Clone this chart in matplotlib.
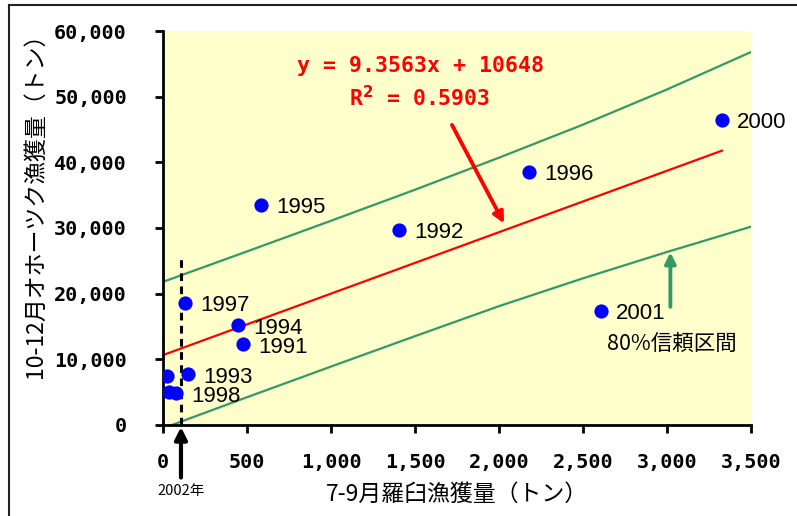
import numpy as np
from matplotlib import pyplot as plt
from matplotlib.ticker import FuncFormatter

plt.rcParams['font.family'] = ['Noto Sans CJK JP', 'DejaVu Sans']

# dati
anni = ["1991", "1992", "1993", "1994", "1995", "1996", "1997", "1998", "", "2000", "2001", ""]
rausu = [478, 1405, 147, 446, 583, 2179, 131, 77, 22, 3327, 2607, 38]          # 7-9月 (トン)
okhotsk = [12290, 29700, 7720, 15180, 33500, 38530, 18580, 4830, 7460, 46450, 17360, 5070]  # 10-12月 (トン)

# retta di regressione (dal testo)
pendenza = 9.3563
intercetta = 10648
r2 = 0.5903

# intervallo di confidenza 80%
banda_x = [0, 500, 1000, 1500, 2000, 2500, 3000, 3500]
banda_sup = [21800, 26430, 31100, 35830, 40710, 45740, 51100, 56800]
banda_inf = [-500, 4230, 8900, 13530, 18100, 22340, 26350, 30200]

x_2002 = 107
top_2002 = 25600

fig = plt.figure(figsize=(7.97, 5.16), dpi=100)
ax = fig.add_axes([163/797, 1-425/516, 588/797, 394/516])
ax.set_facecolor('#FFFFCC')

verde = '#339966'
ax.plot(banda_x, banda_sup, color=verde, lw=1.6, zorder=2)
ax.plot(banda_x, banda_inf, color=verde, lw=1.6, zorder=2)

t = np.linspace(0, max(rausu), 50)
ax.plot(t, pendenza*t + intercetta, color='red', lw=1.6, zorder=2)

ax.plot([x_2002, x_2002], [0, top_2002], color='black', lw=2.2, ls=(0, (2.5, 1.8)), zorder=3)

ax.scatter(rausu, okhotsk, s=105, color='blue', zorder=4, linewidths=0)
for a, xx, yy in zip(anni, rausu, okhotsk):
    if a:
        ax.annotate(a, (xx, yy), xytext=(11, -2), textcoords='offset points',
                    va='center', ha='left', fontsize=16, family=['Liberation Sans'])

ax.text(1530, 54700, "y = {0}x + {1}".format(pendenza, intercetta), color='red',
        fontsize=15.5, fontweight='bold', family=['DejaVu Sans Mono'], ha='center', va='center')
ax.text(1530, 49800, r"R$^\mathbf{2}$ = " + "{0}".format(r2), color='red',
        fontsize=15.5, fontweight='bold', family=['DejaVu Sans Mono'], ha='center', va='center')

# frecce
ax.annotate("", xy=(2030, 30700), xytext=(1720, 45700),
            arrowprops=dict(arrowstyle='-|>', color='red', lw=2.8, mutation_scale=16, shrinkA=0, shrinkB=0))
ax.annotate("", xy=(3020, 26300), xytext=(3020, 18000),
            arrowprops=dict(arrowstyle='-|>', color=verde, lw=2.8, mutation_scale=16, shrinkA=0, shrinkB=0))
ax.text(2640, 12300, "80%信頼区間", fontsize=15.5, ha='left', va='center')

ax.annotate("", xy=(x_2002, -300), xytext=(x_2002, -8000),
            arrowprops=dict(arrowstyle='-|>', color='black', lw=3, mutation_scale=18, shrinkA=0, shrinkB=0),
            annotation_clip=False)
ax.text(x_2002, -10000, "2002年", fontsize=10.5, ha='center', va='center', clip_on=False)

ax.set_xlim(0, 3500)
ax.set_ylim(0, 60000)
ax.set_xticks(np.arange(0, 3501, 500))
ax.set_yticks(np.arange(0, 60001, 10000))
fmt = FuncFormatter(lambda v, p: "{:,.0f}".format(v))
ax.xaxis.set_major_formatter(fmt)
ax.yaxis.set_major_formatter(fmt)
for lab in ax.get_xticklabels() + ax.get_yticklabels():
    lab.set_family(['DejaVu Sans Mono'])
    lab.set_fontweight('bold')
    lab.set_fontsize(14.5)
ax.tick_params(axis='x', length=6, width=2, pad=14)
ax.tick_params(axis='y', length=6, width=2, pad=20)

for s in ['top', 'right']:
    ax.spines[s].set_visible(False)
for s in ['left', 'bottom']:
    ax.spines[s].set_linewidth(2)

ax.set_xlabel("7-9月羅臼漁獲量（トン）", fontsize=16.5, labelpad=8)
ax.set_ylabel("10-12月オホーツク漁獲量（トン）", fontsize=16.5)
ax.yaxis.set_label_coords(-0.197, 0.571)

# cornice della figura
fig.add_artist(plt.Line2D([9/797, 1], [1-5/516, 1-5/516], color='#222222', lw=1.5))
fig.add_artist(plt.Line2D([9/797, 9/797], [0, 1-5/516], color='#222222', lw=1.5))

fig.savefig('out.png', dpi=100)
